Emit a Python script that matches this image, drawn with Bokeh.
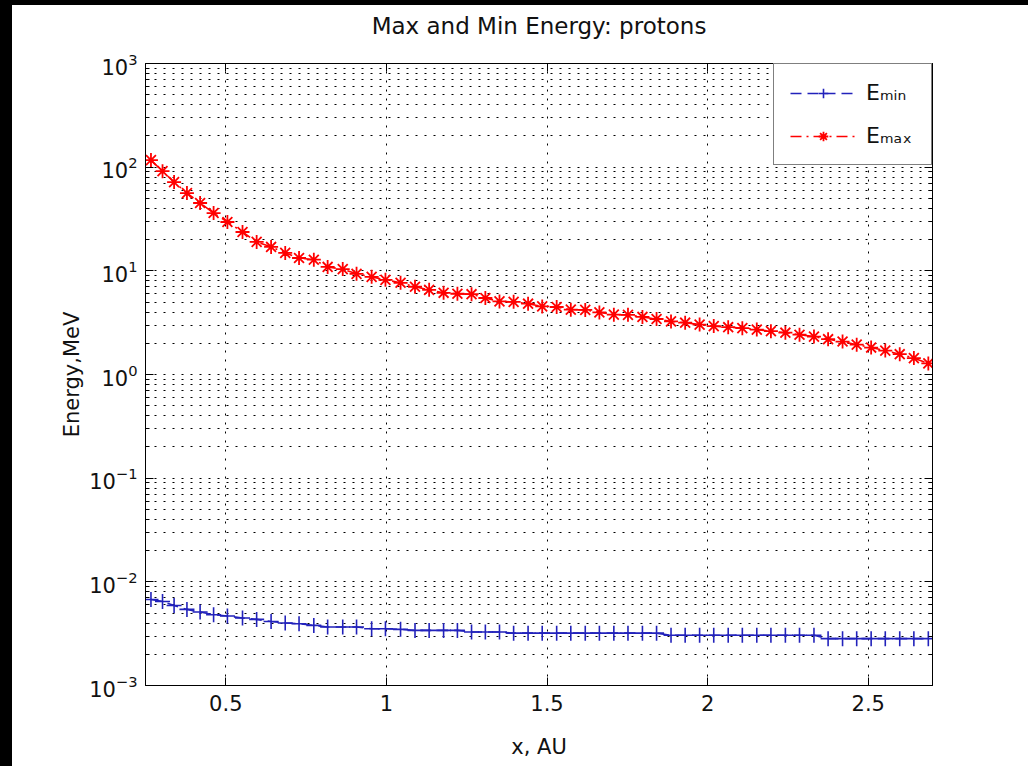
from bokeh.plotting import figure
from bokeh.models import (Range1d, LogAxis, LinearAxis, FixedTicker, Legend,
                          LegendItem, ColumnDataSource)
from bokeh.embed import file_html
from bokeh.resources import INLINE

# ---------------- data ----------------
x_au = [0.267, 0.303, 0.339, 0.379, 0.420, 0.462, 0.505, 0.552, 0.596, 0.641,
        0.685, 0.728, 0.774, 0.817, 0.864, 0.907, 0.954, 0.997, 1.044, 1.089,
        1.133, 1.178, 1.221, 1.265, 1.308, 1.352, 1.396, 1.441, 1.485, 1.530,
        1.574, 1.619, 1.663, 1.708, 1.752, 1.797, 1.841, 1.886, 1.930, 1.975,
        2.019, 2.064, 2.108, 2.153, 2.197, 2.242, 2.286, 2.331, 2.375, 2.420,
        2.464, 2.509, 2.553, 2.598, 2.642, 2.687]

e_min = [6.76e-3, 6.47e-3, 5.92e-3, 5.42e-3, 5.11e-3, 4.82e-3, 4.68e-3, 4.48e-3,
         4.34e-3, 4.15e-3, 4.01e-3, 3.94e-3, 3.80e-3, 3.67e-3, 3.67e-3, 3.67e-3,
         3.53e-3, 3.53e-3, 3.48e-3, 3.40e-3, 3.40e-3, 3.40e-3, 3.40e-3, 3.28e-3,
         3.28e-3, 3.28e-3, 3.20e-3, 3.20e-3, 3.20e-3, 3.20e-3, 3.20e-3, 3.20e-3,
         3.20e-3, 3.20e-3, 3.20e-3, 3.20e-3, 3.20e-3, 3.05e-3, 3.05e-3, 3.05e-3,
         3.05e-3, 3.05e-3, 3.05e-3, 3.05e-3, 3.05e-3, 3.05e-3, 3.05e-3, 3.05e-3,
         2.83e-3, 2.83e-3, 2.83e-3, 2.83e-3, 2.83e-3, 2.83e-3, 2.83e-3, 2.83e-3]

e_max = [117.0, 91.5, 71.8, 56.2, 45.1, 36.1, 29.6, 23.7, 19.0, 17.0,
         14.9, 13.3, 12.8, 10.9, 10.4, 9.35, 8.75, 8.19, 7.67, 7.02,
         6.56, 6.14, 6.01, 5.95, 5.47, 5.07, 5.02, 4.82, 4.54, 4.48,
         4.22, 4.20, 3.97, 3.78, 3.76, 3.59, 3.43, 3.25, 3.16, 3.03,
         2.93, 2.86, 2.80, 2.71, 2.62, 2.53, 2.42, 2.32, 2.19, 2.08,
         1.94, 1.82, 1.70, 1.57, 1.44, 1.28]

x_ticks = [0.5, 1, 1.5, 2, 2.5]
x_tick_labels = ["0.5", "1", "1.5", "2", "2.5"]
y_ticks = [1e-3, 1e-2, 1e-1, 1, 10, 100, 1000]
y_minor_mult = [2, 3, 4, 5, 6, 7, 8, 9]

title_text = "Max and Min Energy: protons"
x_label = "x, AU"
y_label = "Energy,MeV"
legend_labels = ["E\u2098\u1d62\u2099", "E\u2098\u2090\u2093"]

# ---------------- styling ----------------
FONT = "DejaVu Sans"
BLUE = "#2222bb"
RED = "#ff0000"
GRID_DASH = "2 7"

y_minor = [m * t for t in y_ticks[:-1] for m in y_minor_mult]

p = figure(width=1028, height=766,
           x_range=Range1d(0.25, 2.7), y_range=Range1d(1e-3, 1e3),
           y_axis_type="log", output_backend="svg", toolbar_location=None,
           title=None,
           min_border_left=145, min_border_right=96,
           min_border_top=63, min_border_bottom=81)

p.background_fill_color = "white"
p.border_fill_color = "white"
p.outline_line_color = "black"
p.outline_line_width = 1

bottom_axis = p.below[0]
left_axis = p.left[0]

xt = FixedTicker(ticks=x_ticks)
yt = FixedTicker(ticks=y_ticks, minor_ticks=y_minor)

bottom_axis.ticker = xt
left_axis.ticker = yt
bottom_axis.major_label_overrides = {t: s for t, s in zip(x_ticks, x_tick_labels)}
bottom_axis.axis_label = x_label
left_axis.axis_label = y_label

# the top axis carries the chart title as its label
top_axis = LinearAxis(ticker=xt, axis_label=title_text)
right_axis = LogAxis(ticker=yt)
p.add_layout(top_axis, "above")
p.add_layout(right_axis, "right")

for ax in [bottom_axis, left_axis, top_axis, right_axis]:
    ax.axis_line_color = "black"
    ax.major_tick_line_color = "black"
    ax.major_tick_in = 8
    ax.major_tick_out = 0
    ax.minor_tick_in = 4
    ax.minor_tick_out = 0
    ax.minor_tick_line_color = "black"
    ax.major_label_text_font = FONT
    ax.major_label_text_font_size = "21px"
    ax.major_label_text_color = "#111111"
    ax.axis_label_text_font = FONT
    ax.axis_label_text_font_size = "21px"
    ax.axis_label_text_font_style = "normal"
    ax.axis_label_text_color = "#111111"

for ax in [bottom_axis, top_axis]:
    ax.minor_tick_line_color = None

for ax in [top_axis, right_axis]:
    ax.major_label_text_font_size = "2px"
    ax.major_label_text_alpha = 0.0
    ax.major_label_standoff = 0

top_axis.axis_label_text_font_size = "23px"
top_axis.axis_label_standoff = 25

bottom_axis.major_label_standoff = 9
left_axis.major_label_standoff = 8
bottom_axis.axis_label_standoff = 21
left_axis.axis_label_standoff = 2

p.xgrid.ticker = xt
p.ygrid.ticker = yt
for g in [p.xgrid, p.ygrid]:
    g.grid_line_color = "black"
    g.grid_line_dash = GRID_DASH
    g.grid_line_width = 1
p.ygrid.minor_grid_line_color = "black"
p.ygrid.minor_grid_line_dash = GRID_DASH
p.ygrid.minor_grid_line_width = 1

src = ColumnDataSource(dict(x=x_au, emin=e_min, emax=e_max))

lmin = p.line("x", "emin", source=src, line_color=BLUE, line_width=1.6,
              line_dash="11 6")
smin = p.scatter("x", "emin", source=src, marker="cross", size=15,
                 line_color=BLUE, line_width=1.6)
lmax = p.line("x", "emax", source=src, line_color=RED, line_width=1.6,
              line_dash="11 5 2 5")
smax = p.scatter("x", "emax", source=src, marker="asterisk", size=14,
                 line_color=RED, line_width=1.8)

legend = Legend(items=[LegendItem(label=legend_labels[0], renderers=[lmin, smin]),
                       LegendItem(label=legend_labels[1], renderers=[lmax, smax])],
                location="top_right", margin=0, padding=16, spacing=18,
                glyph_width=66, glyph_height=24, label_standoff=10,
                label_width=49,
                border_line_color="black", border_line_width=1,
                background_fill_color="white", background_fill_alpha=1.0,
                label_text_font=FONT, label_text_font_size="22px",
                label_text_color="#111111")
p.add_layout(legend)

html = file_html(p, INLINE, title="Max and Min Energy: protons")
style = ("<style>html,body{margin:0 !important;padding:0;overflow:hidden;"
         "background:#fff;}</style>")
html = html.replace("</head>", style + "</head>", 1)
# black screenshot borders on the top and left edges of the reference
edges = ('<div style="position:fixed;left:0;top:0;width:12px;height:100%;'
         'background:#000;z-index:50;"></div>'
         '<div style="position:fixed;left:0;top:0;width:100%;height:5px;'
         'background:#000;z-index:50;"></div>')
html = html.replace("</body>", edges + "</body>", 1)
open("out.html", "w").write(html)
